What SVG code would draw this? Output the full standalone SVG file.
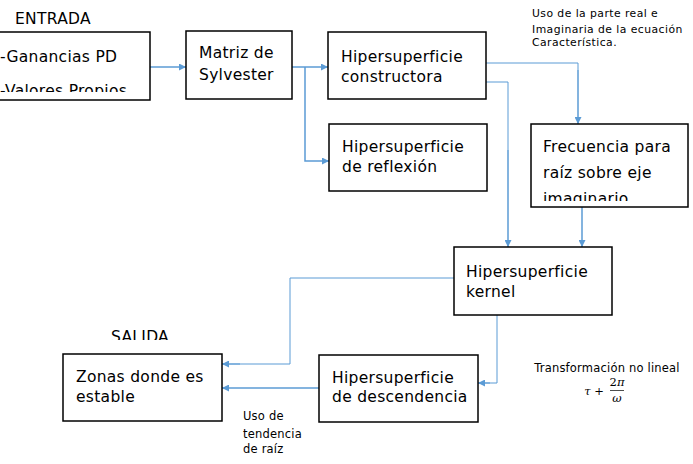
<svg xmlns="http://www.w3.org/2000/svg" width="693" height="464" viewBox="0 0 693 464">
<style>
.box{fill:#fff;stroke:#000;stroke-width:1.5}
.t{font-family:"DejaVu Sans","Liberation Sans",sans-serif;font-size:15.5px;letter-spacing:0.3px;fill:#000}
.s{font-family:"DejaVu Sans","Liberation Sans",sans-serif;font-size:11.5px;letter-spacing:0.2px;fill:#000}
.s2{font-family:"DejaVu Sans","Liberation Sans",sans-serif;font-size:10.8px;letter-spacing:0.45px;fill:#000}
.c{fill:none;stroke:#5b9bd5;stroke-width:1.5}
.c1{fill:none;stroke:#5b9bd5;stroke-width:1}
.m{font-family:"DejaVu Serif","Liberation Serif",serif;font-style:italic;font-size:11.5px;fill:#000}
</style>
<defs>
<marker id="ah" viewBox="0 0 10 10" refX="10" refY="5" markerWidth="7" markerHeight="7" markerUnits="userSpaceOnUse" orient="auto">
<path d="M0,0 L10,5 L0,10 z" fill="#5b9bd5"/>
</marker>
<clipPath id="clip1"><rect x="0" y="0" width="150" height="92"/></clipPath>
<clipPath id="clip2"><rect x="531" y="124" width="157" height="77"/></clipPath>
<clipPath id="clip3"><rect x="100" y="320" width="100" height="20"/></clipPath>
</defs>

<text class="t" x="15" y="24">ENTRADA</text>
<g clip-path="url(#clip3)"><text class="t" x="111" y="342">SALIDA</text></g>

<g id="connectors">
<line class="c" x1="150" y1="67" x2="186" y2="67" marker-end="url(#ah)"/>
<line class="c" x1="292" y1="67" x2="328" y2="67" marker-end="url(#ah)"/>
<polyline class="c" points="305,67 305,161 329,161" marker-end="url(#ah)"/>
<polyline class="c1" points="486,63 578,63 578,70"/>
<line class="c" x1="578" y1="70" x2="578" y2="124" marker-end="url(#ah)"/>
<polyline class="c1" points="486,82 508,82 508,150"/>
<line class="c" x1="508" y1="150" x2="508" y2="247" marker-end="url(#ah)"/>
<line class="c" x1="582" y1="207" x2="582" y2="247" marker-end="url(#ah)"/>
<polyline class="c1" points="454,278 290,278 290,364 240,364"/>
<line class="c" x1="240" y1="364" x2="222" y2="364" marker-end="url(#ah)"/>
<polyline class="c1" points="497,315 497,383 490,383"/>
<line class="c" x1="490" y1="383" x2="478" y2="383" marker-end="url(#ah)"/>
<line class="c" x1="319" y1="388" x2="222" y2="388" marker-end="url(#ah)"/>
</g>

<g id="entrada">
<rect class="box" x="-2" y="32" width="152" height="68"/>
<text class="t" x="0" y="62">-Ganancias PD</text>
<g clip-path="url(#clip1)"><text class="t" x="0" y="96">-Valores Propios</text></g>
</g>

<g id="sylvester">
<rect class="box" x="186" y="31" width="106" height="68"/>
<text class="t" x="199" y="58">Matriz de</text>
<text class="t" x="199" y="80">Sylvester</text>
</g>

<g id="constructora">
<rect class="box" x="328" y="32" width="158" height="67"/>
<text class="t" x="341" y="62">Hipersuperficie</text>
<text class="t" x="341" y="82">constructora</text>
</g>

<g id="reflexion">
<rect class="box" x="329" y="124" width="158" height="67"/>
<text class="t" x="342" y="152">Hipersuperficie</text>
<text class="t" x="342" y="172">de reflexión</text>
</g>

<g id="frecuencia">
<rect class="box" x="531" y="124" width="157" height="83"/>
<text class="t" x="543" y="152">Frecuencia para</text>
<text class="t" x="543" y="178">raíz sobre eje</text>
<g clip-path="url(#clip2)"><text class="t" x="543" y="204">imaginario</text></g>
</g>

<g id="kernel">
<rect class="box" x="454" y="247" width="158" height="68"/>
<text class="t" x="466" y="277">Hipersuperficie</text>
<text class="t" x="466" y="297">kernel</text>
</g>

<g id="zonas">
<rect class="box" x="63" y="354" width="159" height="67"/>
<text class="t" x="76" y="382">Zonas donde es</text>
<text class="t" x="76" y="402">estable</text>
</g>

<g id="descendencia">
<rect class="box" x="319" y="355" width="159" height="67"/>
<text class="t" x="332" y="383">Hipersuperficie</text>
<text class="t" x="332" y="402">de descendencia</text>
</g>

<g id="annotations">
<text class="s2" x="532" y="17">Uso de la parte real e</text>
<text class="s2" x="532" y="33">Imaginaria de la ecuación</text>
<text class="s2" x="532" y="46">Característica.</text>
<text class="s" x="243" y="420">Uso de</text>
<text class="s" x="243" y="438">tendencia</text>
<text class="s" x="243" y="453">de raíz</text>
<text class="s" x="607" y="372" text-anchor="middle">Transformación no lineal</text>
<text class="m" x="594" y="395" text-anchor="middle"><tspan>τ</tspan><tspan font-style="normal"> +</tspan></text>
<text class="m" x="617" y="386" text-anchor="middle"><tspan font-style="normal">2</tspan>π</text>
<line x1="610" y1="390.5" x2="624" y2="390.5" stroke="#000" stroke-width="0.7"/>
<text class="m" x="617" y="402" text-anchor="middle">ω</text>
</g>
</svg>
